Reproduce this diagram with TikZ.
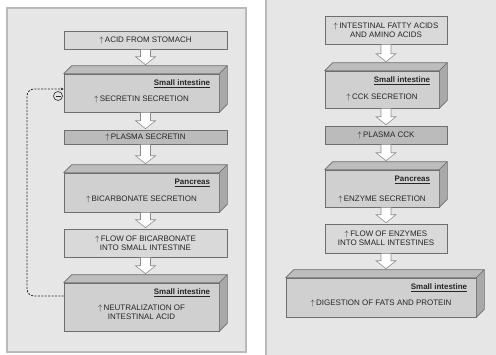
\documentclass[tikz,border=0pt]{standalone}
\usepackage{fontspec}
\setmainfont{Liberation Sans}
\usepackage{tikz}
\usetikzlibrary{arrows.meta,positioning,calc}
\usepackage{xcolor}

\definecolor{panelfill}{HTML}{E6E6E6}
\definecolor{panelline}{HTML}{BABABA}
\definecolor{boxline}{HTML}{6E6E6E}
\definecolor{flatfill}{HTML}{D9D9D9}
\definecolor{plasmafill}{HTML}{BBBBBB}
\definecolor{frontfill}{HTML}{D0D0D0}
\definecolor{topfill}{HTML}{BDBDBD}
\definecolor{sidefill}{HTML}{A9A9A9}
\definecolor{ink}{HTML}{262626}

\newcommand{\rise}{$\uparrow$\,}

% top and side faces of a solid box, plus the points the arrows use
\newcommand{\solidfaces}[1]{%
  \filldraw[topface] (#1.north west) -- ++(8,-8) -- ([shift={(8,-8)}]#1.north east) -- (#1.north east) -- cycle;
  \filldraw[sideface] (#1.north east) -- ++(8,-8) -- ([shift={(8,-8)}]#1.south east) -- (#1.south east) -- cycle;
  \coordinate (#1-in) at ([shift={(4,-8)}]#1.north);
  \coordinate (#1-out) at ([xshift=4bp]#1.south);
}

% white block arrow from one box down to the next
\newcommand{\flowdown}[2]{%
  \filldraw[flowarrow] let \p1=(#1), \p2=(#2) in
    (\x1-5bp,\y1) -- (\x1-5bp,\y2+9bp) -- (\x1-10bp,\y2+9bp) -- (\x1,\y2+1bp)
    -- (\x1+10bp,\y2+9bp) -- (\x1+5bp,\y2+9bp) -- (\x1+5bp,\y1) -- cycle;
}

\tikzset{
  box/.style={draw=boxline, line width=0.6bp, inner sep=0pt, align=center, text=ink,
    font=\fontsize{8}{9.2}\selectfont},
  flatbox/.style={box, fill=flatfill, minimum width=163bp},
  plasmabox/.style={flatbox, fill=plasmafill},
  solidbox/.style={box, fill=frontfill, minimum width=155bp},
  flatboxR/.style={box, fill=flatfill, minimum width=122bp},
  plasmaboxR/.style={flatboxR, fill=plasmafill},
  solidboxR/.style={box, fill=frontfill, minimum width=114bp},
  topface/.style={fill=topfill, draw=boxline, line width=0.6bp, line join=round},
  sideface/.style={fill=sidefill, draw=boxline, line width=0.6bp, line join=round},
  organ/.style={inner sep=0pt, text=ink, font=\fontsize{8}{9.2}\selectfont\bfseries},
  txt/.style={inner sep=0pt, align=center, text=ink, font=\fontsize{8}{9.2}\selectfont},
  flowarrow/.style={fill=white, draw=boxline!80, line width=0.6bp, line join=miter},
  feedback/.style={draw=ink, line width=0.8bp, dash pattern=on 2bp off 1.4bp, rounded corners=7bp,
    -{Stealth[length=3bp,width=3bp]}},
  inhibit/.style={circle, draw=ink, line width=0.6bp, fill=panelfill, minimum size=9bp, inner sep=0pt},
  panel/.style={fill=panelfill, draw=panelline, line width=1.4bp}
}

\begin{document}
\begin{tikzpicture}[x=1bp,y=-1bp]
  \useasboundingbox[fill=white] (0,0) rectangle (496,354);
  \begin{scope}
    \clip (0,0) rectangle (496,354);
    \path[panel] (7,8) rectangle (246,352);
    \path[panel] (266,-5) rectangle (505,360);
  \end{scope}

  % left panel: secretin
  \node[flatbox, minimum height=18bp] (L1) at (145.5,40) {\rise ACID FROM STOMACH};
  \node[solidbox, minimum height=38bp] (L2) at (141.5,93) {};
  \node[plasmabox, minimum height=14bp] (L3) at (145.5,137) {\rise PLASMA SECRETIN};
  \node[solidbox, minimum height=39bp] (L4) at (141.5,192.5) {};
  \node[flatbox, minimum height=28bp] (L5) at (145.5,243) {\rise FLOW OF BICARBONATE\\INTO SMALL INTESTINE};
  \node[solidbox, minimum height=48bp] (L6) at (141.5,307) {};
  \solidfaces{L2}
  \solidfaces{L4}
  \solidfaces{L6}

  \node[organ, below left=6bp and 9bp of L2.north east] (L2h) {\underline{Small intestine}};
  \node[txt] (L2t) at ([yshift=-6bp]L2.center) {\rise SECRETIN SECRETION};
  \node[organ, below left=6bp and 9bp of L4.north east] (L4h) {\underline{Pancreas}};
  \node[txt] (L4t) at ([yshift=-6.5bp]L4.center) {\rise BICARBONATE SECRETION};
  \node[organ, below left=6bp and 9bp of L6.north east] (L6h) {\underline{Small intestine}};
  \node[txt] (L6t) at ([yshift=-5.5bp]L6.center) {\rise NEUTRALIZATION OF\\INTESTINAL ACID};

  \flowdown{L1.south}{L2-in}
  \flowdown{L2-out}{L3.north}
  \flowdown{L3.south}{L4-in}
  \flowdown{L4-out}{L5.north}
  \flowdown{L5.south}{L6-in}

  % negative feedback loop
  \coordinate (bend) at (27,200);
  \draw[feedback] ([yshift=11bp]L6.west) -| (bend) |- ([yshift=4bp]L2.west);
  \node[inhibit] (minus) at (58,96) {};
  \draw[ink, line width=0.6bp] ([xshift=-2.5bp]minus.center) -- ([xshift=2.5bp]minus.center);

  % right panel: CCK
  \node[flatboxR, minimum height=28bp] (R1) at (386,30) {\rise INTESTINAL FATTY ACIDS\\AND AMINO ACIDS};
  \node[solidboxR, minimum height=37bp] (R2) at (382,89.5) {};
  \node[plasmaboxR, minimum height=18bp] (R3) at (386,135) {\rise PLASMA CCK};
  \node[solidboxR, minimum height=37bp] (R4) at (382,188.5) {};
  \node[flatboxR, minimum height=29bp] (R5) at (386,238.5) {\rise FLOW OF ENZYMES\\INTO SMALL INTESTINES};
  \node[solidbox, minimum width=190bp, minimum height=39bp] (R6) at (381,297.5) {};
  \solidfaces{R2}
  \solidfaces{R4}
  \solidfaces{R6}

  \node[organ, below left=6bp and 9bp of R2.north east] (R2h) {\underline{Small intestine}};
  \node[txt] (R2t) at ([yshift=-7.5bp]R2.center) {\rise CCK SECRETION};
  \node[organ, below left=6bp and 9bp of R4.north east] (R4h) {\underline{Pancreas}};
  \node[txt] (R4t) at ([yshift=-10.5bp]R4.center) {\rise ENZYME SECRETION};
  \node[organ, below left=6bp and 9bp of R6.north east] (R6h) {\underline{Small intestine}};
  \node[txt] (R6t) at ([yshift=-5.5bp]R6.center) {\rise DIGESTION OF FATS AND PROTEIN};

  \flowdown{R1.south}{R2-in}
  \flowdown{R2-out}{R3.north}
  \flowdown{R3.south}{R4-in}
  \flowdown{R4-out}{R5.north}
  \flowdown{R5.south}{R6-in}
\end{tikzpicture}
\end{document}
